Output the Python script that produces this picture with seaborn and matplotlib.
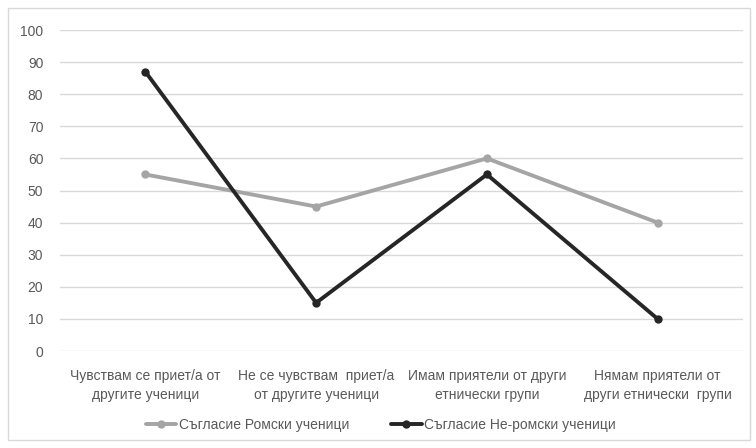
import pandas as pd
import matplotlib.pyplot as plt
import seaborn as sns
from matplotlib.patches import Rectangle

categories = ['Чувствам се приет/а от\nдругите ученици',
              'Не се чувствам  приет/а\nот другите ученици',
              'Имам приятели от други\nетнически групи',
              'Нямам приятели от\nдруги етнически  групи']
roma = [55, 45, 60, 40]
non_roma = [87, 15, 55, 10]
series_names = ['Съгласие Ромски ученици', 'Съгласие Не-ромски ученици']
colors = ['#a5a5a5', '#262626']

df = pd.DataFrame({
    'pos': list(range(4)) * 2,
    'value': roma + non_roma,
    'series': [series_names[0]] * 4 + [series_names[1]] * 4,
})

sns.set_style('white')
plt.rcParams['font.family'] = ['Liberation Sans', 'DejaVu Sans']

fig = plt.figure(figsize=(7.56, 4.48), dpi=100)
ax = fig.add_axes([60 / 756, 1 - 351 / 448, 683 / 756, 321 / 448])

sns.lineplot(data=df, x='pos', y='value', hue='series', palette=colors,
             marker='o', markersize=6, markeredgewidth=0, linewidth=2.8,
             sort=False, ax=ax)

ax.set_xlim(-0.5, 3.5)
ax.set_ylim(0, 100)
ax.set_yticks(range(0, 101, 10))
ax.set_xticks(range(4))
ax.set_xticklabels(categories, linespacing=1.45)
ax.tick_params(axis='both', length=0, labelsize=10, colors='#595959')
ax.tick_params(axis='x', pad=13)
ax.tick_params(axis='y', pad=12)
ax.yaxis.grid(True, color='#d9d9d9', linewidth=1)
ax.set_axisbelow(True)
for s in ax.spines.values():
    s.set_visible(False)
ax.set_xlabel('')
ax.set_ylabel('')

ax.legend(loc='center', bbox_to_anchor=(0.47, -74 / 321), ncol=2,
          frameon=False, fontsize=10, handlelength=2.2, handletextpad=0.2,
          columnspacing=3.0, labelcolor='#595959')

fig.patches.append(Rectangle((8 / 756, 8 / 448), 742 / 756, 432 / 448,
                             transform=fig.transFigure, fill=False,
                             edgecolor='#d9d9d9', linewidth=1))

fig.savefig('out.png', dpi=100)
